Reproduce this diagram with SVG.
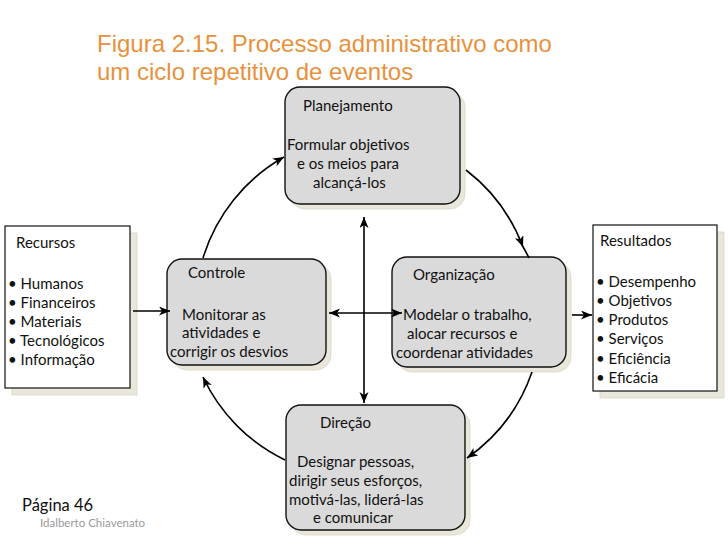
<svg xmlns="http://www.w3.org/2000/svg" width="728" height="546" viewBox="0 0 728 546">
<defs>
<marker id="ah" markerUnits="userSpaceOnUse" markerWidth="13" markerHeight="10" refX="11" refY="4.5" orient="auto">
<path d="M0,0 L11,4.5 L0,9 L3,4.5 z" fill="#000"/>
</marker>
<marker id="ahs" markerUnits="userSpaceOnUse" markerWidth="13" markerHeight="10" refX="11" refY="4.5" orient="auto-start-reverse">
<path d="M0,0 L11,4.5 L0,9 L3,4.5 z" fill="#000"/>
</marker>
</defs>
<style>
.title{font-family:"Liberation Sans",Arial,sans-serif;font-size:24px;fill:#e8913c}
.t{font-family:Lato,"Liberation Sans",sans-serif;font-size:15px;fill:#111}
.shadow{fill:#e9e7da;stroke:#d8d5c4;stroke-width:0.8}
.box{fill:#dadada;stroke:#111;stroke-width:1.4}
.wbox{fill:#fff;stroke:#111;stroke-width:1.2}
.c{fill:none;stroke:#000;stroke-width:1.6}
.pg{font-family:Lato,"Liberation Sans",sans-serif;font-size:16.5px;fill:#111}
.au{font-family:Lato,"Liberation Sans",sans-serif;font-size:11.5px;fill:#9a9a9a}
</style>
<rect width="728" height="546" fill="#fff"/>
<text class="title" x="97" y="52">Figura 2.15. Processo administrativo como</text>
<text class="title" x="97" y="80">um ciclo repetitivo de eventos</text>

<g id="recursos">
<rect class="shadow" x="12" y="233" width="125" height="162"/>
<rect class="wbox" x="5" y="226" width="125" height="162"/>
<text class="t" x="16" y="248">Recursos</text>
<text class="t" x="8" y="289">• Humanos</text>
<text class="t" x="8" y="308">• Financeiros</text>
<text class="t" x="8" y="327">• Materiais</text>
<text class="t" x="8" y="346">• Tecnológicos</text>
<text class="t" x="8" y="365">• Informação</text>
</g>

<g id="resultados">
<rect class="shadow" x="600" y="232" width="124" height="166"/>
<rect class="wbox" x="593" y="225" width="124" height="166"/>
<text class="t" x="600" y="246">Resultados</text>
<text class="t" x="596" y="287">• Desempenho</text>
<text class="t" x="596" y="306">• Objetivos</text>
<text class="t" x="596" y="325">• Produtos</text>
<text class="t" x="596" y="344">• Serviços</text>
<text class="t" x="596" y="364">• Eficiência</text>
<text class="t" x="596" y="383">• Eficácia</text>
</g>

<g id="planejamento">
<rect class="shadow" x="290" y="92" width="175" height="117" rx="15"/>
<rect class="box" x="285" y="87" width="175" height="117" rx="15"/>
<text class="t" x="303" y="111">Planejamento</text>
<text class="t" x="287" y="150">Formular objetivos</text>
<text class="t" x="297" y="169">e os meios para</text>
<text class="t" x="313" y="188">alcançá-los</text>
</g>

<g id="controle">
<rect class="shadow" x="172" y="264" width="159" height="106" rx="15"/>
<rect class="box" x="167" y="259" width="159" height="106" rx="15"/>
<text class="t" x="188" y="278">Controle</text>
<text class="t" x="182" y="320">Monitorar as</text>
<text class="t" x="182" y="338">atividades e</text>
<text class="t" x="170" y="357">corrigir os desvios</text>
</g>

<g id="organizacao">
<rect class="shadow" x="397" y="262" width="174" height="110" rx="15"/>
<rect class="box" x="392" y="257" width="174" height="110" rx="15"/>
<text class="t" x="413" y="280">Organização</text>
<text class="t" x="403" y="320">Modelar o trabalho,</text>
<text class="t" x="407" y="339">alocar recursos e</text>
<text class="t" x="396" y="358">coordenar atividades</text>
</g>

<g id="direcao">
<rect class="shadow" x="291" y="410" width="179" height="125" rx="15"/>
<rect class="box" x="286" y="405" width="179" height="125" rx="15"/>
<text class="t" x="320" y="428">Direção</text>
<text class="t" x="297" y="467">Designar pessoas,</text>
<text class="t" x="289" y="486">dirigir seus esforços,</text>
<text class="t" x="289" y="505">motivá-las, liderá-las</text>
<text class="t" x="313" y="523">e comunicar</text>
</g>

<g id="connectors">
<path class="c" d="M133 311 H170" marker-end="url(#ah)"/>
<path class="c" d="M572 315 H592" marker-end="url(#ah)"/>
<path class="c" d="M364 217 V403" marker-start="url(#ahs)" marker-end="url(#ah)"/>
<path class="c" d="M329 313 H402" marker-start="url(#ahs)" marker-end="url(#ah)"/>
<path class="c" d="M203 258 A174 174 0 0 1 284 157" marker-end="url(#ah)"/>
<path class="c" d="M466 170 A174 174 0 0 1 523 247" marker-end="url(#ah)"/>
<path class="c" d="M522 245 A174 174 0 0 1 529 258"/>
<path class="c" d="M532 372 A174 174 0 0 1 467 458" marker-end="url(#ah)"/>
<path class="c" d="M285 460 A174 174 0 0 1 203 377" marker-end="url(#ah)"/>
</g>

<text class="pg" x="22" y="511">Página 46</text>
<text class="au" x="40" y="527">Idalberto Chiavenato</text>
</svg>
